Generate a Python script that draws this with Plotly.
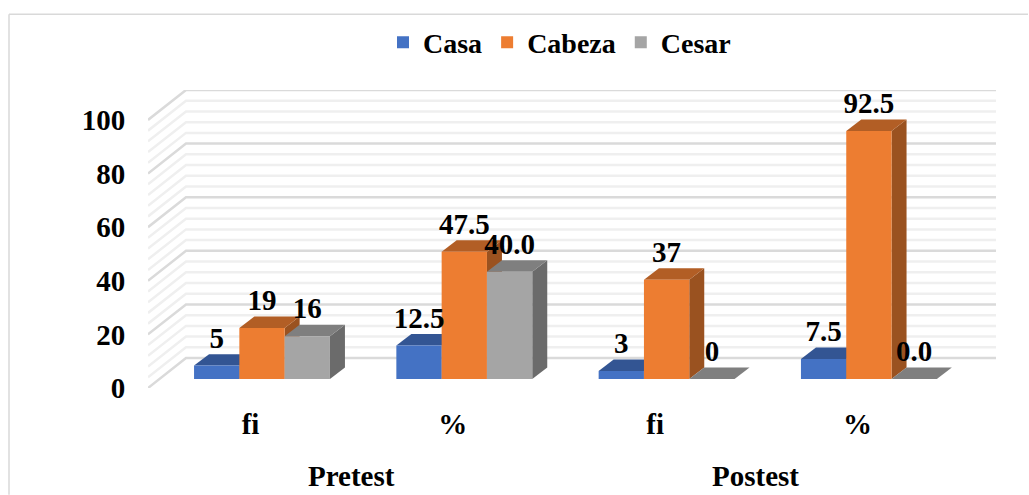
import plotly.graph_objects as go

# ---- data ----
categories = ["fi", "%", "fi", "%"]
groups = ["Pretest", "Postest"]
series_names = ["Casa", "Cabeza", "Cesar"]
casa = [5, 12.5, 3, 7.5]
cabeza = [19, 47.5, 37, 92.5]
cesar = [16, 40.0, 0, 0.0]
all_series = [casa, cabeza, cesar]
y_ticks = [0, 20, 40, 60, 80, 100]
minor_step_values = [v for v in range(0, 101, 4)]

# ---- style ----
front_colors = ["#4472C4", "#ED7D31", "#A5A5A5"]
top_colors = ["#335593", "#B25E25", "#7F7F7F"]
side_colors = ["#2F4F88", "#9A5220", "#6B6B6B"]
FONT = dict(family="Liberation Serif", size=29, color="#000000", weight="bold")

# ---- geometry in pixels converted to axis units ----
W, H = 1029, 495
L, R, T, B = 148, 996, 89.5, 388
PX_PER_UNIT = 2.685
GROUP_STEP = 202.3
X0_PX = 262.0
x_range = [(L - X0_PX) / GROUP_STEP, (R - X0_PX) / GROUP_STEP]
y_range = [0, (B - T) / PX_PER_UNIT]
bar_w = 45.3 / GROUP_STEP
bar_base = 9 / PX_PER_UNIT
depth_x = 15 / GROUP_STEP
depth_y = 11.5 / PX_PER_UNIT
wall_x = 38 / GROUP_STEP
wall_y = 30 / PX_PER_UNIT
label_up = 25 / PX_PER_UNIT
xs = list(range(len(categories)))
px = lambda p: (p - L) / (R - L)
py = lambda p: (B - p) / (B - T)

fig = go.Figure()


def wall_trace(values, color, width):
    x, y = [], []
    for v in values:
        x += [x_range[0], x_range[0] + wall_x, x_range[1], None]
        y += [v, v + wall_y, v + wall_y, None]
    fig.add_trace(go.Scatter(x=x, y=y, mode="lines", line=dict(color=color, width=width),
                             showlegend=False, hoverinfo="skip", cliponaxis=False))


minor = [v for v in minor_step_values if v not in y_ticks]
wall_trace(minor, "#EFEFEF", 2.5)
wall_trace(y_ticks, "#DADADA", 2.5)

# depth faces, left to right so neighbours hide each other
for i in xs:
    for s, vals in enumerate(all_series):
        left = i - 1.5 * bar_w + s * bar_w
        right = left + bar_w
        v = vals[i] + bar_base
        fig.add_trace(go.Scatter(
            x=[right, right + depth_x, right + depth_x, right, right],
            y=[bar_base, bar_base + depth_y, v + depth_y, v, bar_base],
            mode="lines", fill="toself", fillcolor=side_colors[s],
            line=dict(width=0), showlegend=False, hoverinfo="skip"))
        fig.add_trace(go.Scatter(
            x=[left, left + depth_x, right + depth_x, right, left],
            y=[v, v + depth_y, v + depth_y, v, v],
            mode="lines", fill="toself", fillcolor=top_colors[s],
            line=dict(width=0), showlegend=False, hoverinfo="skip"))

# front faces
for s, vals in enumerate(all_series):
    fig.add_trace(go.Bar(x=xs, y=vals, base=bar_base, name=series_names[s],
                         marker=dict(color=front_colors[s], line=dict(width=0)),
                         xaxis="x2", yaxis="y2"))

# data labels
for s, vals in enumerate(all_series):
    text = [f"{v:.0f}" if categories[i] == "fi" else f"{v:.1f}" for i, v in enumerate(vals)]
    fig.add_trace(go.Scatter(
        x=[i - bar_w + s * bar_w for i in xs],
        y=[v + bar_base + label_up for v in vals],
        mode="text", text=text, textposition="middle center", textfont=FONT,
        showlegend=False, hoverinfo="skip", cliponaxis=False, xaxis="x2", yaxis="y2"))

annotations = [
    dict(text=g, x=0.44 + 2 * k, xref="x", y=py(476), yref="paper", showarrow=False,
         font=FONT, xanchor="center", yanchor="middle")
    for k, g in enumerate(groups)
]

BORDER = "#D9D9D9"
shapes = [
    dict(type="line", xref="paper", yref="paper", x0=px(9), x1=px(9), y0=py(13.5), y1=py(495),
         line=dict(color=BORDER, width=1.5)),
    dict(type="line", xref="paper", yref="paper", x0=px(9), x1=px(1028), y0=py(13.5), y1=py(13.5),
         line=dict(color=BORDER, width=1.5)),
]

LEGEND_FONT = dict(FONT, size=28)

fig.update_layout(
    width=W, height=H,
    margin=dict(l=L, r=W - R, t=T, b=H - B, pad=0),
    paper_bgcolor="white", plot_bgcolor="white",
    barmode="group", bargap=1 - 3 * bar_w, bargroupgap=0,
    font=FONT,
    showlegend=True,
    legend=dict(orientation="h", x=px(383), xanchor="left", y=py(42), yanchor="middle",
                font=LEGEND_FONT, itemwidth=30, bgcolor="rgba(0,0,0,0)", traceorder="normal"),
    annotations=annotations, shapes=shapes,
    xaxis=dict(range=x_range, tickmode="array", tickvals=[i - 11.5 / GROUP_STEP for i in xs],
               ticktext=categories, ticks="outside", ticklen=10, tickcolor="rgba(0,0,0,0)",
               showgrid=False, zeroline=False, showline=False, tickfont=FONT),
    yaxis=dict(range=y_range, tickmode="array", tickvals=y_ticks, ticks="outside", ticklen=16,
               tickcolor="rgba(0,0,0,0)", showgrid=False, zeroline=False, showline=False,
               tickfont=FONT),
    xaxis2=dict(range=x_range, overlaying="x", matches="x", visible=False),
    yaxis2=dict(range=y_range, overlaying="y", matches="y", visible=False),
)

fig.write_html("out.html", config=dict(displayModeBar=False),
               post_script="document.body.style.margin='0';document.body.style.overflow='hidden';")
